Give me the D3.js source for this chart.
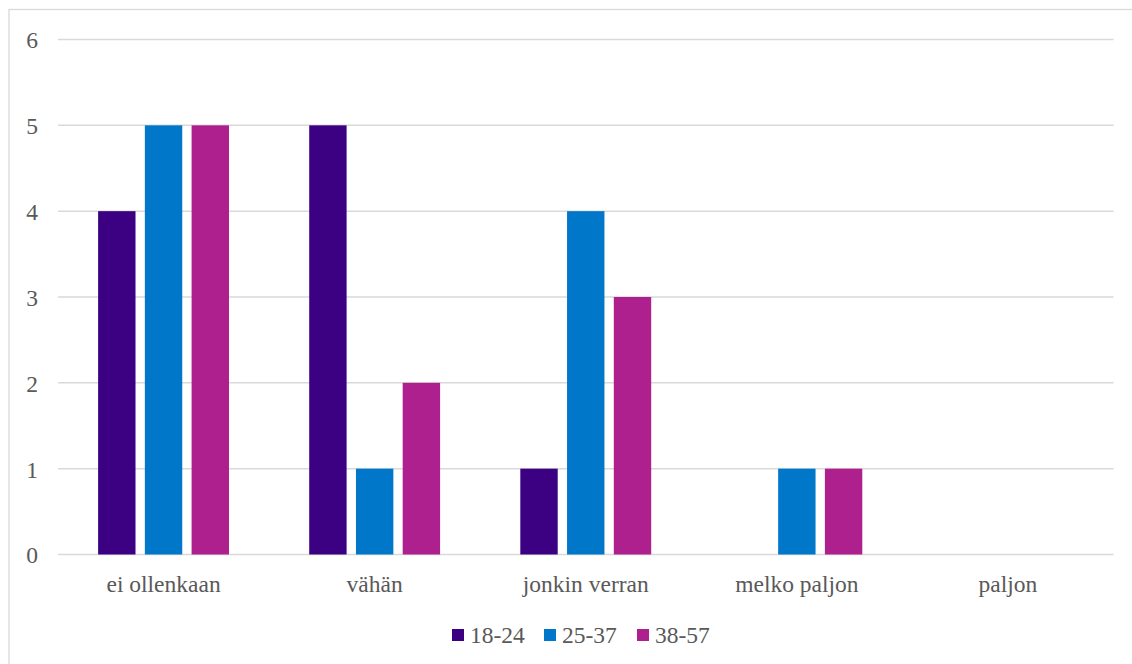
<!DOCTYPE html>
<html>
<head>
<meta charset="utf-8">
<script src="https://cdn.jsdelivr.net/npm/d3@7"></script>
<style>
  body { margin: 0; background: #fff; }
  svg { display: block; }
</style>
</head>
<body>
<script>
// data
const categories = ["ei ollenkaan", "vähän", "jonkin verran", "melko paljon", "paljon"];
const seriesNames = ["18-24", "25-37", "38-57"];
const s1824 = [4, 5, 1, 0, 0];
const s2537 = [5, 1, 4, 1, 0];
const s3857 = [5, 2, 3, 1, 0];
const yTicks = [0, 1, 2, 3, 4, 5, 6];
const colors = ["#3C0082", "#0077C8", "#AE208E"];

const seriesValues = [s1824, s2537, s3857];
const data = categories.map((c, i) => ({
  cat: c,
  values: seriesNames.map((s, j) => ({ key: s, idx: j, value: seriesValues[j][i] }))
}));

const W = 1132, H = 664;
const margin = { top: 39.5, right: 18.5, bottom: 109.5, left: 58 };
const width = W - margin.left - margin.right,
      height = H - margin.top - margin.bottom;
const font = "Liberation Serif";
const fontSize = 23.5;
const textColor = "#595959";

const svg = d3.select("body").append("svg")
  .attr("width", W)
  .attr("height", H)
  .attr("font-family", font);

// chart frame
svg.append("rect")
  .attr("x", 9).attr("y", 9.5)
  .attr("width", W).attr("height", H)
  .attr("fill", "none")
  .attr("stroke", "#d9d9d9")
  .attr("stroke-width", 1.3);

const g = svg.append("g")
  .attr("transform", "translate(" + margin.left + "," + margin.top + ")");

const x = d3.scaleBand()
  .domain(categories)
  .range([0, width])
  .paddingInner(0.38)
  .paddingOuter(0.19);

const xSub = d3.scaleBand()
  .domain(seriesNames)
  .range([0, x.bandwidth()])
  .paddingInner(0.2);

const y = d3.scaleLinear()
  .domain([0, 6])
  .range([height, 0]);

// gridlines
g.append("g")
  .selectAll("line")
  .data(yTicks)
  .enter()
  .append("line")
    .attr("x1", 0)
    .attr("x2", width)
    .attr("y1", d => y(d))
    .attr("y2", d => y(d))
    .attr("stroke", "#d9d9d9")
    .attr("stroke-width", 1.5);

// y labels
const yAxis = g.append("g")
  .call(d3.axisLeft(y).tickValues(yTicks).tickSize(0).tickPadding(20).tickFormat(d3.format("d")));
yAxis.select(".domain").remove();
yAxis.attr("font-family", font).attr("font-size", fontSize);
yAxis.selectAll("text")
  .attr("dy", "0.36em")
  .attr("font-family", font)
  .attr("font-size", fontSize)
  .attr("fill", textColor);

// bars
g.append("g")
  .selectAll("g")
  .data(data)
  .enter()
  .append("g")
    .attr("transform", d => "translate(" + x(d.cat) + ",0)")
  .selectAll("rect")
  .data(d => d.values.filter(v => v.value > 0))
  .enter()
  .append("rect")
    .attr("x", d => xSub(d.key))
    .attr("y", d => y(d.value))
    .attr("width", xSub.bandwidth())
    .attr("height", d => y(0) - y(d.value))
    .attr("fill", d => colors[d.idx]);

// x labels
const xAxis = g.append("g")
  .attr("transform", "translate(0," + height + ")")
  .call(d3.axisBottom(x).tickSize(0).tickPadding(21));
xAxis.select(".domain").remove();
xAxis.attr("font-family", font).attr("font-size", fontSize);
xAxis.selectAll("text")
  .attr("font-family", font)
  .attr("font-size", fontSize)
  .attr("fill", textColor);

// legend
const legendX = [452, 544, 637];
const legend = svg.append("g")
  .selectAll("g")
  .data(seriesNames)
  .enter()
  .append("g")
    .attr("transform", (d, i) => "translate(" + legendX[i] + ",629)");
legend.append("rect")
  .attr("width", 12).attr("height", 12)
  .attr("fill", (d, i) => colors[i]);
legend.append("text")
  .attr("x", 18)
  .attr("y", 6)
  .attr("dy", "0.36em")
  .attr("font-family", font)
  .attr("font-size", fontSize)
  .attr("fill", textColor)
  .text(d => d);
</script>
</body>
</html>
